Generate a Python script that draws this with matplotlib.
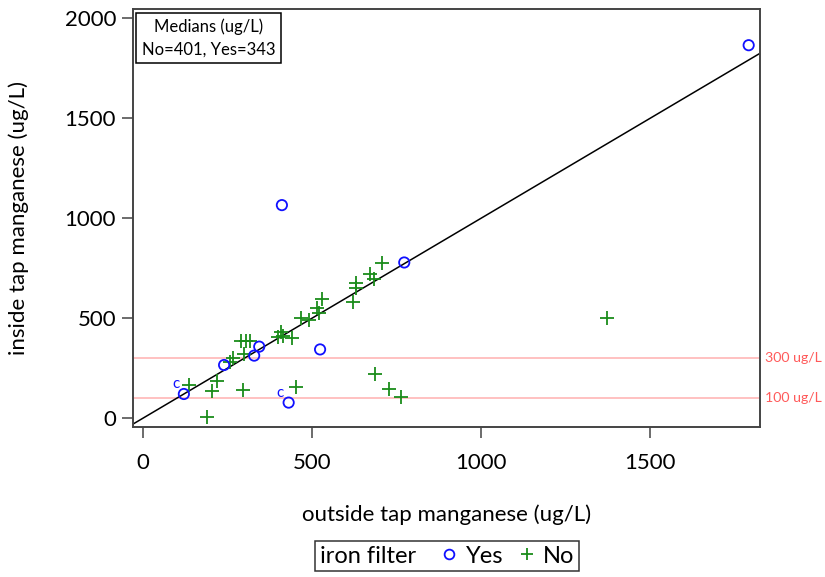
import matplotlib
matplotlib.use("Agg")
import matplotlib.pyplot as plt
from matplotlib.lines import Line2D
from matplotlib.offsetbox import HPacker

plt.rcParams["font.family"] = ["Lato", "DejaVu Sans"]

# iron filter = Yes (circles)
yes_out = [120, 239, 328, 343, 410, 430, 523, 772, 1791]
yes_in = [120, 265, 312, 357, 1065, 77, 343, 778, 1865]

# iron filter = No (plus)
no_out = [136, 189, 204, 218, 256, 266, 290, 295, 297, 303, 315, 399, 406,
          412, 441, 453, 466, 490, 515, 520, 530, 620, 629, 629, 672, 683,
          685, 706, 726, 761, 1372]
no_in = [165, 7, 135, 187, 282, 298, 385, 140, 320, 385, 385, 407, 432,
         410, 398, 157, 498, 490, 548, 523, 595, 582, 673, 648, 718, 693,
         220, 776, 145, 107, 498]

# points flagged with "c"
c_out = [120, 430]
c_in = [120, 77]

ref_levels = [300, 100]
ref_labels = ["300 ug/L", "100 ug/L"]

fig = plt.figure(figsize=(8.25, 5.77), dpi=100)
ax = fig.add_axes([0.161, 0.260, 0.760, 0.724])

for lev, lab in zip(ref_levels, ref_labels):
    ax.axhline(lev, color="#ffb6b6", lw=1.2, zorder=1)
    ax.text(1.008, lev, lab, color="#ff5a5a", fontsize=10.2, va="center",
            ha="left", transform=ax.get_yaxis_transform(), clip_on=False)

ax.axline((0, 0), slope=1, color="black", lw=1.1, zorder=2)

ax.scatter(no_out, no_in, marker="+", s=90, color="#1a8c1a", linewidths=1.3, zorder=3)
ax.scatter(yes_out, yes_in, marker="o", s=55, facecolors="none",
           edgecolors="#1010ff", linewidths=1.3, zorder=4)

for cx, cy in zip(c_out, c_in):
    ax.annotate("c", (cx, cy), xytext=(-6, 7), textcoords="offset points",
                color="#1010ff", fontsize=11, ha="center", va="center")

ax.set_xlim(-31, 1824)
ax.set_ylim(-45, 2045)
ax.set_xticks([0, 500, 1000, 1500])
ax.set_yticks([0, 500, 1000, 1500, 2000])
ax.tick_params(labelsize=16, length=8, width=1.1, color="#444444", pad=4)
ax.tick_params(axis="x", pad=11)
for s in ax.spines.values():
    s.set_color("#444444")
    s.set_linewidth(1.4)

ax.set_xlabel("outside tap manganese (ug/L)", fontsize=16, labelpad=22)
ax.set_ylabel("inside tap manganese (ug/L)", fontsize=16, labelpad=26)

ax.text(0.014, 0.978, "Medians (ug/L)\nNo=401, Yes=343", transform=ax.transAxes,
        ha="left", va="top", fontsize=12, multialignment="center",
        linespacing=1.5,
        bbox=dict(boxstyle="square,pad=0.35", fc="white", ec="black", lw=1.1))

handles = [
    Line2D([], [], linestyle="none", marker="o", markerfacecolor="none",
           markeredgecolor="#1010ff", markersize=7, markeredgewidth=1.3),
    Line2D([], [], linestyle="none", marker="+", color="#1a8c1a",
           markersize=9, markeredgewidth=1.3),
]
leg = fig.legend(handles, ["Yes", "No"], ncol=2, title="iron filter",
                 title_fontsize=17,
                 loc="center", bbox_to_anchor=(0.542, 0.036), fontsize=17,
                 frameon=True, fancybox=False, edgecolor="black",
                 handlelength=0.8, handletextpad=0.3, columnspacing=0.6,
                 borderpad=0.2)
leg.get_frame().set_linewidth(1.1)

# put the legend title beside the entries instead of above them
old_box = leg._legend_box
leg._legend_box = HPacker(pad=old_box.pad, sep=17 * 1.0, align="center",
                          children=[leg._legend_title_box, leg._legend_handle_box])
leg._legend_box.set_figure(fig)
leg._set_loc(leg._loc)

fig.savefig("out.png", dpi=100)
